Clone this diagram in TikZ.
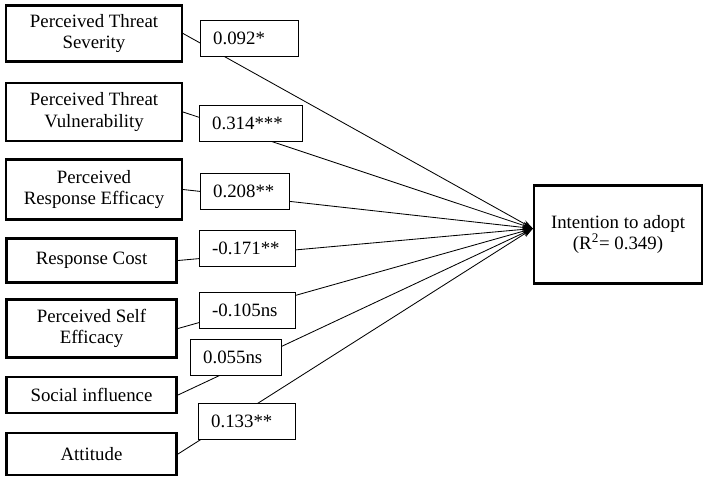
\documentclass[tikz,border=0pt]{standalone}
\usepackage{fontspec}
\setmainfont{Liberation Serif}
\usetikzlibrary{arrows.meta,positioning}
\tikzset{
  factor/.style={draw=black, line width=1.8pt, align=center, font=\fontsize{13.4}{15.2}\selectfont, minimum width=#1, inner sep=2pt},
  factor/.default=4.39cm,
  coef/.style={draw=black, fill=white, line width=0.6pt, align=left, font=\fontsize{13.4}{15.2}\selectfont, minimum height=0.9cm, inner xsep=0.33cm, text width=#1, anchor=west},
  outcome/.style={draw=black, line width=1.8pt, align=center, font=\fontsize{13.4}{15.2}\selectfont, minimum width=4.19cm, minimum height=2.46cm},
  arrpath/.style={-{Stealth[length=2.6mm,width=1.7mm]}, line width=0.6pt},
}

\begin{document}
\begin{tikzpicture}[x=0.025cm, y=-0.025cm]
\useasboundingbox (0,0) rectangle (708,481);

% Predictors
\node[factor, minimum height=1.41cm] (pts) at (94,33.5) {Perceived Threat\\Severity};
\node[factor, minimum height=1.44cm] (ptv) at (94,112) {Perceived Threat\\Vulnerability};
\node[factor, minimum height=1.51cm] (pre) at (94,189.5) {Perceived\\Response Efficacy};
\node[factor=4.26cm, minimum height=1.11cm] (rc) at (91.5,260.5) {Response Cost};
\node[factor=4.26cm, minimum height=1.46cm] (pse) at (91.5,328.5) {Perceived Self\\Efficacy};
\node[factor=4.26cm, minimum height=0.89cm] (si) at (91.5,395) {Social influence};
\node[factor=4.26cm, minimum height=1.04cm] (att) at (91.5,454) {Attitude};

% Outcome
\node[outcome] (ita) at (618,234.5) {Intention to adopt\\(R\textsuperscript{2}= 0.349)};
\coordinate (tip) at ([yshift=1.5mm]ita.west);

% Paths
\foreach \src in {pts,ptv,pre,rc,pse,si,att}
  \draw[arrpath] (\src.east) -- (tip);

% Path coefficients
\node[coef=1.79cm] (cpts) at (199.5,38.5) {0.092*};
\node[coef=1.915cm] (cptv) at (198.5,123) {0.314***};
\node[coef=1.565cm] (cpre) at (199.5,191.5) {0.208**};
\node[coef=1.74cm] (crc) at (198.5,248.5) {-0.171**};
\node[coef=1.74cm] (cpse) at (198.5,310.5) {-0.105ns};
\node[coef=1.615cm] (csi) at (189.5,357.5) {0.055ns};
\node[coef=1.765cm] (catt) at (197.5,421.5) {0.133**};
\end{tikzpicture}
\end{document}
